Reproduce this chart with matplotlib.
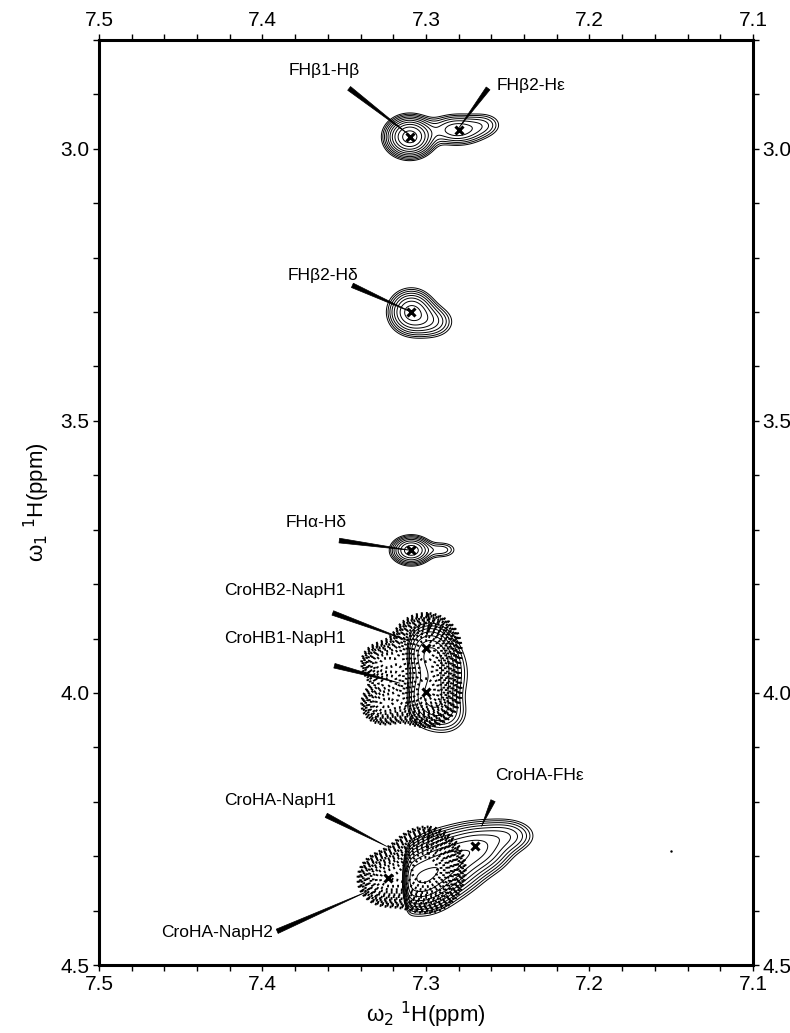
import numpy as np
import matplotlib
matplotlib.use("Agg")
import matplotlib.pyplot as plt
from matplotlib.ticker import MultipleLocator

plt.rcParams['font.family'] = ['Liberation Sans', 'DejaVu Sans']

# solid contour peaks (x ppm, y ppm, sigma x, sigma y, amplitude)
solid_x = [7.310, 7.281, 7.264, 7.309, 7.296, 7.309, 7.290, 7.298, 7.298, 7.290, 7.287,
           7.305, 7.287, 7.268, 7.250]
solid_y = [2.978, 2.965, 2.955, 3.300, 3.318, 3.738, 3.737, 3.925, 4.010, 3.965, 4.040,
           4.345, 4.312, 4.285, 4.262]
solid_sx = [0.0075, 0.010, 0.007, 0.0075, 0.008, 0.0065, 0.006, 0.009, 0.009, 0.010, 0.008,
            0.012, 0.012, 0.011, 0.010]
solid_sy = [0.019, 0.016, 0.014, 0.022, 0.018, 0.014, 0.010, 0.030, 0.030, 0.035, 0.022,
            0.030, 0.030, 0.025, 0.018]
solid_amp = [1.00, 0.35, 0.12, 0.55, 0.20, 0.60, 0.14, 0.32, 0.32, 0.20, 0.14,
             0.75, 0.60, 0.45, 0.22]

# dotted contour peaks
dot_x = [7.300, 7.300, 7.326, 7.326, 7.300, 7.325]
dot_y = [3.918, 3.998, 3.945, 4.020, 4.325, 4.342]
dot_sx = [0.010, 0.010, 0.008, 0.008, 0.011, 0.009]
dot_sy = [0.030, 0.030, 0.022, 0.022, 0.036, 0.026]
dot_amp = [1.00, 1.00, 0.40, 0.40, 1.10, 0.55]

# cross-peak markers
mark_x = [7.310, 7.280, 7.309, 7.309, 7.300, 7.300, 7.270, 7.323]
mark_y = [2.978, 2.965, 3.300, 3.738, 3.918, 3.998, 4.282, 4.340]

# labels: text, text position, wedge start, wedge end, alignment
labels = ['FHβ1-Hβ', 'FHβ2-Hε', 'FHβ2-Hδ', 'FHα-Hδ', 'CroHB2-NapH1', 'CroHB1-NapH1',
          'CroHA-FHε', 'CroHA-NapH1', 'CroHA-NapH2']
label_pos = [(7.362, 2.857), (7.257, 2.884), (7.363, 3.233), (7.367, 3.686), (7.386, 3.812),
             (7.386, 3.900), (7.258, 4.152), (7.389, 4.197), (7.428, 4.440)]
label_ha = ['center', 'left', 'center', 'center', 'center', 'center', 'left', 'center', 'center']
wedge_start = [(7.347, 2.889), (7.262, 2.889), (7.345, 3.251), (7.353, 3.720), (7.357, 3.853),
               (7.356, 3.950), (7.259, 4.198), (7.361, 4.225), (7.391, 4.438)]
wedge_end = [(7.310, 2.975), (7.280, 2.962), (7.309, 3.300), (7.309, 3.738), (7.310, 3.905),
             (7.316, 3.982), (7.266, 4.245), (7.324, 4.282), (7.336, 4.365)]

xg = np.linspace(7.1, 7.5, 900)
yg = np.linspace(2.8, 4.5, 2200)
X, Y = np.meshgrid(xg, yg)


def field(px, py, sx, sy, amp):
    Z = np.zeros_like(X)
    for a, b, c, d, e in zip(px, py, sx, sy, amp):
        Z += e * np.exp(-0.5 * (((X - a) / c) ** 2 + ((Y - b) / d) ** 2))
    return Z


Zs = field(solid_x, solid_y, solid_sx, solid_sy, solid_amp)
# sharp left edge of the overlapped solid peaks
edge = 1.0 / (1.0 + np.exp((X - 7.312) / 0.0012))
Zs = np.where(Y > 3.8, Zs * edge, Zs)
Zd = field(dot_x, dot_y, dot_sx, dot_sy, dot_amp)

fig = plt.figure(figsize=(7.9, 10.33), dpi=100)
ax = fig.add_axes([0.1253, 0.0658, 0.8278, 0.8955])

ax.contour(X, Y, Zs, levels=0.07 * 1.32 ** np.arange(10), colors='k', linewidths=0.7)
ax.contour(X, Y, Zd, levels=0.10 * 1.17 ** np.arange(15), colors='k',
           linewidths=1.9, linestyles=[(0, (0.7, 1.2))])
ax.plot(mark_x, mark_y, 'x', color='k', ms=6, mew=2.2)
ax.plot([7.15], [4.29], '.', color='k', ms=1.5)

for t, p, ha, s, e in zip(labels, label_pos, label_ha, wedge_start, wedge_end):
    ax.text(p[0], p[1], t, ha=ha, va='center', fontsize=12.5)
    ax.annotate('', xy=e, xytext=s,
                arrowprops=dict(arrowstyle='wedge,tail_width=0.28,shrink_factor=0.5',
                                color='k', shrinkA=0, shrinkB=0, lw=0.5),
                fontsize=12)

ax.set_xlim(7.5, 7.1)
ax.set_ylim(4.5, 2.8)
ax.xaxis.set_major_locator(MultipleLocator(0.1))
ax.xaxis.set_minor_locator(MultipleLocator(0.02))
ax.yaxis.set_major_locator(MultipleLocator(0.5))
ax.yaxis.set_minor_locator(MultipleLocator(0.1))
ax.xaxis.set_major_formatter(matplotlib.ticker.FormatStrFormatter('%.1f'))
ax.yaxis.set_major_formatter(matplotlib.ticker.FormatStrFormatter('%.1f'))
ax.tick_params(which='both', direction='out', top=True, right=True, labeltop=True,
               labelright=True, length=4, width=1.0, labelsize=15, pad=3)
for sp in ax.spines.values():
    sp.set_linewidth(2.2)

ax.set_xlabel('ω$_2$ $^1$H(ppm)', fontsize=16, labelpad=4)
ax.set_ylabel('ω$_1$ $^1$H(ppm)', fontsize=16, labelpad=6)

fig.savefig('out.png', dpi=100)
